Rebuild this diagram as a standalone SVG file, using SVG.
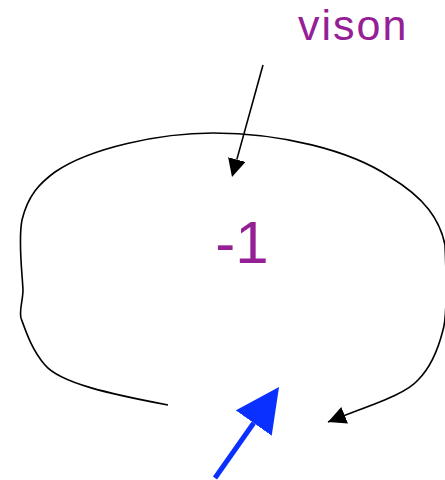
<svg xmlns="http://www.w3.org/2000/svg" width="445" height="480" viewBox="0 0 445 480">
<style>
.lbl{font-family:"Liberation Sans",Arial,sans-serif;fill:#952095}
.edge{fill:none;stroke:#000;stroke-width:1.6}
</style>
<defs>
<marker id="ah" markerUnits="userSpaceOnUse" markerWidth="20" markerHeight="20" refX="18" refY="9" orient="auto" viewBox="0 0 20 20">
<path d="M0,0 L18,9 L0,18 z" fill="#000"/>
</marker>
<marker id="ah0" markerUnits="userSpaceOnUse" markerWidth="20" markerHeight="20" refX="0" refY="9" orient="auto" viewBox="0 0 20 20">
<path d="M0,0 L18,9 L0,18 z" fill="#000"/>
</marker>
<marker id="bh" markerUnits="userSpaceOnUse" markerWidth="48" markerHeight="48" refX="0" refY="22" orient="auto" viewBox="0 0 48 48">
<path d="M0,0 L44,22 L0,44 z" fill="#0A30FF"/>
</marker>
</defs>
<g id="vison"><text class="lbl" x="298" y="40" font-size="43" letter-spacing="2">vison</text></g>
<g id="minus1"><text class="lbl" x="242" y="263" font-size="60" text-anchor="middle">-1</text></g>
<g id="connectors">
<path class="edge" d="M263,65 L236.8,159.6" marker-end="url(#ah0)"/>
<path class="edge" d="M168,405 C110,394 60,383 45,365 C32,350 26,332 21,318 C19,310 23,300 23,290 C22,270 18,240 22,220 C28,195 40,183 55,172 C90,148 160,133 213,133 C280,133 350,150 390,177 C425,198 440,220 445,245 C447,290 446,320 443,330 C438,350 430,368 418,380 C405,395 370,405 328,422" marker-end="url(#ah)"/>
<path d="M215,478 L253.7,423" fill="none" stroke="#0A30FF" stroke-width="5" marker-end="url(#bh)"/>
</g>
</svg>
